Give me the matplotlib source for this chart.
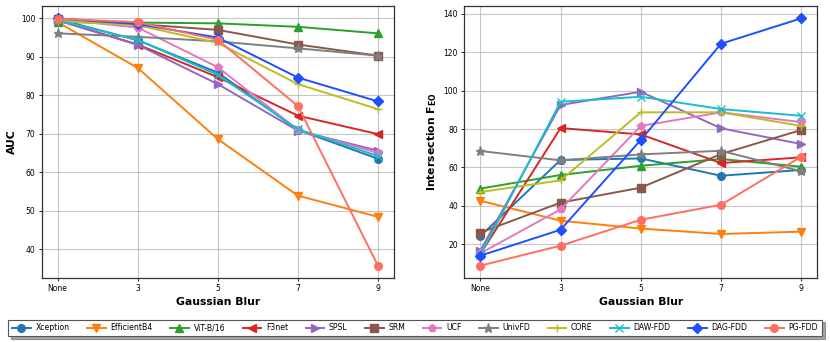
import matplotlib
matplotlib.use("Agg")
import matplotlib.pyplot as plt

x_labels = ["None", "3", "5", "7", "9"]
methods = ["Xception", "EfficientB4", "ViT-B/16", "F3net", "SPSL", "SRM",
           "UCF", "UnivFD", "CORE", "DAW-FDD", "DAG-FDD", "PG-FDD"]

auc_xception = [99.8, 94.3, 85.9, 71.0, 63.5]
auc_efficientb4 = [99.0, 87.1, 68.6, 53.9, 48.4]
auc_vit = [99.0, 98.9, 98.7, 97.8, 96.1]
auc_f3net = [99.5, 93.2, 84.7, 74.7, 69.9]
auc_spsl = [99.5, 93.1, 82.9, 70.8, 65.6]
auc_srm = [99.8, 98.5, 97.0, 93.2, 90.3]
auc_ucf = [99.8, 97.6, 87.3, 71.0, 65.0]
auc_univfd = [96.1, 95.2, 94.0, 92.2, 90.3]
auc_core = [99.3, 98.2, 93.6, 82.9, 76.4]
auc_dawfdd = [99.5, 94.4, 85.3, 71.2, 64.2]
auc_dagfdd = [100.0, 98.5, 95.0, 84.6, 78.4]
auc_pgfdd = [99.9, 99.0, 94.4, 77.2, 35.7]

feo_xception = [24.3, 63.9, 64.7, 55.7, 58.7]
feo_efficientb4 = [42.7, 32.3, 28.2, 25.4, 26.6]
feo_vit = [49.0, 56.1, 60.9, 64.4, 60.4]
feo_f3net = [15.0, 80.5, 77.2, 62.3, 65.3]
feo_spsl = [16.7, 92.5, 99.4, 80.4, 72.2]
feo_srm = [26.1, 41.7, 49.5, 67.0, 79.5]
feo_ucf = [15.3, 38.2, 81.6, 88.7, 83.6]
feo_univfd = [68.6, 63.7, 66.8, 68.7, 58.0]
feo_core = [47.2, 53.3, 88.7, 88.7, 81.6]
feo_dawfdd = [14.5, 94.2, 96.8, 90.4, 86.9]
feo_dagfdd = [14.1, 27.6, 74.3, 124.4, 137.6]
feo_pgfdd = [8.9, 19.3, 32.8, 40.6, 65.6]

auc_data = [auc_xception, auc_efficientb4, auc_vit, auc_f3net, auc_spsl, auc_srm,
            auc_ucf, auc_univfd, auc_core, auc_dawfdd, auc_dagfdd, auc_pgfdd]
feo_data = [feo_xception, feo_efficientb4, feo_vit, feo_f3net, feo_spsl, feo_srm,
            feo_ucf, feo_univfd, feo_core, feo_dawfdd, feo_dagfdd, feo_pgfdd]

colors = ["#1f77b4", "#ff7f0e", "#2ca02c", "#d62728", "#9467bd", "#8c564b",
          "#e377c2", "#7f7f7f", "#bcbd22", "#17becf", "#1f4fff", "#ff6f61"]
markers = ["o", "v", "^", "<", ">", "s", "p", "*", "+", "x", "D", "o"]

fig = plt.figure(figsize=(8.3, 3.42), dpi=100)
ax1 = fig.add_axes([0.0502, 0.187, 0.4245, 0.7955])
ax2 = fig.add_axes([0.5594, 0.187, 0.4253, 0.7955])

xs = list(range(len(x_labels)))
handles = []
for ax, data, ylabel in [(ax1, auc_data, "AUC"),
                         (ax2, feo_data, r"Intersection $\mathbf{F}_{\mathbf{EO}}$")]:
    for i, (name, vals) in enumerate(zip(methods, data)):
        ms = 5.5
        if markers[i] == "*":
            ms = 6.5
        if markers[i] in ("+", "x"):
            ms = 6
        h, = ax.plot(xs, vals, color=colors[i], marker=markers[i], markersize=ms,
                     linewidth=1.4, label=name, markeredgewidth=1.0)
        if ax is ax1:
            handles.append(h)
    ax.set_xticks(xs)
    ax.set_xticklabels(x_labels)
    ax.tick_params(axis="both", labelsize=5.5, length=2.5, width=0.6, pad=2)
    ax.grid(True, color="#b0b0b0", linewidth=0.8, alpha=0.7)
    ax.set_xlabel("Gaussian Blur", fontsize=7.8, fontweight="bold", labelpad=3)
    ax.set_ylabel(ylabel, fontsize=7.8, fontweight="bold", labelpad=3)
    for s in ax.spines.values():
        s.set_color("#333333")
        s.set_linewidth(0.9)

leg = fig.legend(handles=handles, labels=methods, loc="center", ncol=12,
                 bbox_to_anchor=(0.5, 0.041), fontsize=5.6, shadow=True,
                 fancybox=False, edgecolor="#555555", framealpha=1,
                 handlelength=2.4, columnspacing=2.25, handletextpad=0.6,
                 borderpad=0.5, borderaxespad=0.3)
leg.get_frame().set_linewidth(0.8)

fig.savefig("out.png", dpi=100)
